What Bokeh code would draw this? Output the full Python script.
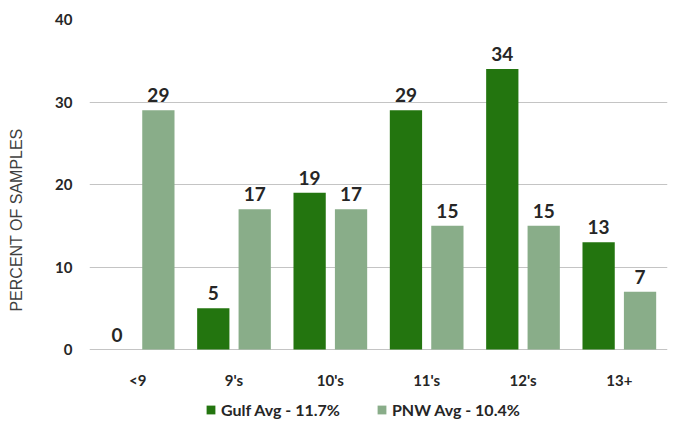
from bokeh.plotting import figure
from bokeh.models import FactorRange, Legend, LegendItem, ColumnDataSource
from bokeh.transform import dodge
from bokeh.core.properties import value
from bokeh.embed import file_html
from bokeh.resources import INLINE

categories = ["<9", "9's", "10's", "11's", "12's", "13+"]
gulf = [0, 5, 19, 29, 34, 13]
pnw = [29, 17, 17, 15, 15, 7]
gulf_label = "Gulf Avg - 11.7%"
pnw_label = "PNW Avg - 10.4%"
y_ticks = [0, 10, 20, 30, 40]

GULF_C = "#23750f"
PNW_C = "#89ad89"
FONT = "Lato"

src = ColumnDataSource(dict(cat=categories, gulf=gulf, pnw=pnw,
                            gulf_t=[str(v) for v in gulf], pnw_t=[str(v) for v in pnw]))

# frame runs from y=19 to y=420; value 0 sits at y=349 (8.25 px per unit)
Y_MIN = -(420 - 349) / 8.25
p = figure(width=673, height=423, x_range=FactorRange(*categories), y_range=(Y_MIN, 40),
           output_backend="svg", toolbar_location=None,
           min_border_left=89, min_border_right=6, min_border_top=19, min_border_bottom=3)
p.outline_line_color = None

r1 = p.vbar(x=dodge("cat", -0.215, range=p.x_range), top="gulf", bottom=0, width=0.335,
            source=src, fill_color=GULF_C, line_color=None)
r2 = p.vbar(x=dodge("cat", 0.215, range=p.x_range), top="pnw", bottom=0, width=0.335,
            source=src, fill_color=PNW_C, line_color=None)

p.text(x=dodge("cat", -0.215, range=p.x_range), y="gulf", text="gulf_t", source=src,
       text_font=value(FONT), text_font_style="bold", text_font_size="19px",
       text_color="#262626", text_align="center", text_baseline="bottom", y_offset=-8)
p.text(x=dodge("cat", 0.215, range=p.x_range), y="pnw", text="pnw_t", source=src,
       text_font=value(FONT), text_font_style="bold", text_font_size="19px",
       text_color="#262626", text_align="center", text_baseline="bottom", y_offset=-8)

p.xgrid.grid_line_color = None
p.ygrid.ticker = y_ticks
p.ygrid.grid_line_color = "#c4c4c4"
p.ygrid.grid_line_width = 1

p.yaxis.ticker = y_ticks
p.yaxis.axis_line_color = None
p.yaxis.major_tick_line_color = None
p.yaxis.minor_tick_line_color = None
p.yaxis.major_label_text_font = FONT
p.yaxis.major_label_text_font_style = "bold"
p.yaxis.major_label_text_font_size = "15px"
p.yaxis.major_label_text_color = "#262626"
p.yaxis.major_label_standoff = 11
p.yaxis.axis_label = "PERCENT OF SAMPLES"
p.yaxis.axis_label_text_font = "Liberation Sans"
p.yaxis.axis_label_text_font_style = "normal"
p.yaxis.axis_label_text_font_size = "16px"
p.yaxis.axis_label_text_color = "#404040"
p.yaxis.axis_label_standoff = 27

p.xaxis.axis_line_color = None
p.xaxis.major_tick_line_color = None
p.xaxis.minor_tick_line_color = None
p.xaxis.major_label_text_font = FONT
p.xaxis.major_label_text_font_style = "bold"
p.xaxis.major_label_text_font_size = "15px"
p.xaxis.major_label_text_color = "#262626"
p.xaxis.major_label_standoff = -56

legend = Legend(items=[LegendItem(label=gulf_label, renderers=[r1]),
                       LegendItem(label=pnw_label, renderers=[r2])],
                orientation="horizontal", location=(116, 1),
                label_text_font=FONT, label_text_font_style="bold",
                label_text_font_size="16px", label_text_color="#262626",
                glyph_width=11, glyph_height=11, spacing=36, label_standoff=5,
                border_line_color=None, background_fill_alpha=0,
                padding=0, margin=0)
p.add_layout(legend, "center")

open("out.html", "w").write(file_html(p, INLINE))
